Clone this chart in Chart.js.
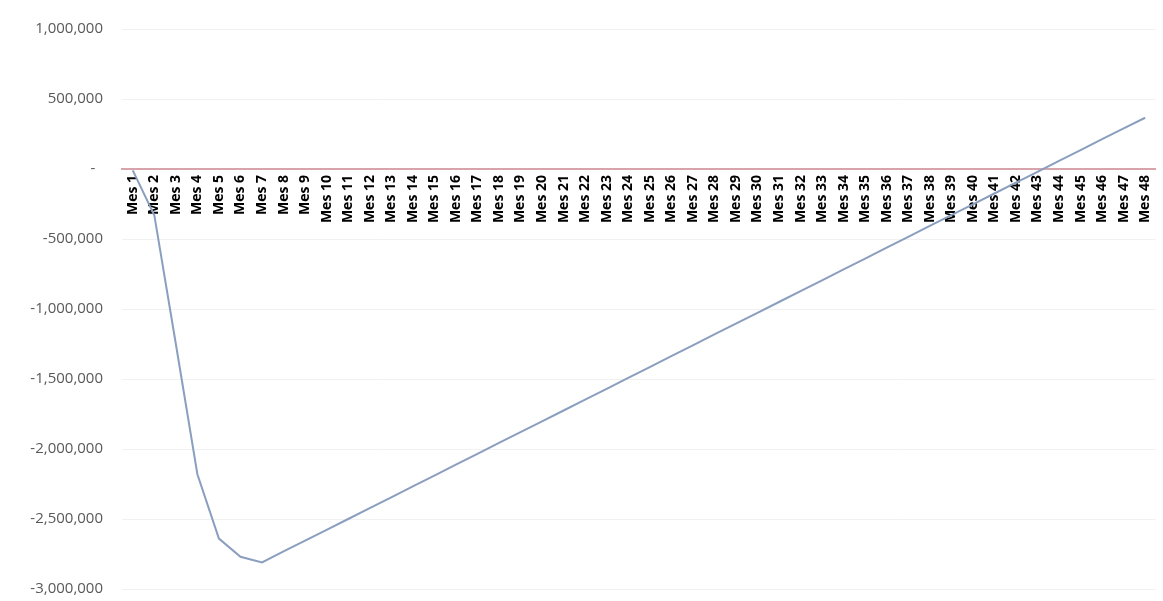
<!DOCTYPE html>
<html>
<head>
<meta charset="utf-8">
<script src="https://cdn.jsdelivr.net/npm/chart.js@4/dist/chart.umd.min.js"></script>
<style>
    body { margin: 0; background: #fff; overflow: hidden; }
    #wrap { width: 1163px; height: 601px; overflow: hidden; }
</style>
</head>
<body>
<div id="wrap"><canvas id="flujoChart" width="1168" height="617"></canvas></div>
<script>
// Meses del horizonte
const meses = [
    'Mes 1', 'Mes 2', 'Mes 3', 'Mes 4', 'Mes 5', 'Mes 6', 'Mes 7', 'Mes 8',
    'Mes 9', 'Mes 10', 'Mes 11', 'Mes 12', 'Mes 13', 'Mes 14', 'Mes 15', 'Mes 16',
    'Mes 17', 'Mes 18', 'Mes 19', 'Mes 20', 'Mes 21', 'Mes 22', 'Mes 23', 'Mes 24',
    'Mes 25', 'Mes 26', 'Mes 27', 'Mes 28', 'Mes 29', 'Mes 30', 'Mes 31', 'Mes 32',
    'Mes 33', 'Mes 34', 'Mes 35', 'Mes 36', 'Mes 37', 'Mes 38', 'Mes 39', 'Mes 40',
    'Mes 41', 'Mes 42', 'Mes 43', 'Mes 44', 'Mes 45', 'Mes 46', 'Mes 47', 'Mes 48'
];

// Flujo acumulado
const flujoAcumulado = [
    -10000, -330000, -1250000, -2180000, -2640000, -2770000, -2810000, -2732000,
    -2655000, -2577000, -2500000, -2422000, -2345000, -2267000, -2190000, -2112000,
    -2035000, -1957000, -1880000, -1802000, -1725000, -1647000, -1570000, -1492000,
    -1415000, -1337000, -1260000, -1182000, -1105000, -1027000, -950000, -872000,
    -795000, -717000, -640000, -562000, -485000, -407000, -330000, -252000,
    -175000, -97000, -20000, 58000, 135000, 213000, 290000, 366000
];

// Eje Y
const ejeMin = -3000000;
const ejeMax = 1000000;
const ejePaso = 500000;

document.addEventListener('DOMContentLoaded', function () {
    const ctx = document.getElementById('flujoChart').getContext('2d');

    new Chart(ctx, {
        type: 'line',
        data: {
            labels: meses,
            datasets: [{
                data: flujoAcumulado,
                borderColor: '#8a9ebf',
                borderWidth: 2,
                pointRadius: 0,
                tension: 0,
                fill: false
            }]
        },
        options: {
            responsive: false,
            animation: false,
            layout: {
                padding: { top: 29, bottom: 12, left: 0, right: 2 }
            },
            plugins: {
                legend: { display: false },
                tooltip: { enabled: false }
            },
            scales: {
                x: {
                    position: { y: 0 },
                    offset: true,
                    grid: { display: false, drawTicks: false },
                    border: { color: '#d8a4ac', width: 2 },
                    ticks: {
                        autoSkip: false,
                        minRotation: 90,
                        maxRotation: 90,
                        padding: 6,
                        color: '#000',
                        font: { family: 'Open Sans', size: 14, weight: 'bold' }
                    }
                },
                y: {
                    min: ejeMin,
                    max: ejeMax,
                    afterFit: function (scale) {
                        scale.width = 122;
                    },
                    grid: {
                        color: '#f1f1f1',
                        drawTicks: false
                    },
                    border: { display: false },
                    ticks: {
                        stepSize: ejePaso,
                        padding: 19,
                        color: '#595959',
                        font: { family: 'Open Sans', size: 15 },
                        callback: function (value) {
                            if (value === 0) {
                                return '-  ';
                            }
                            return value.toLocaleString('en-US');
                        }
                    }
                }
            }
        }
    });
});
</script>
</body>
</html>
